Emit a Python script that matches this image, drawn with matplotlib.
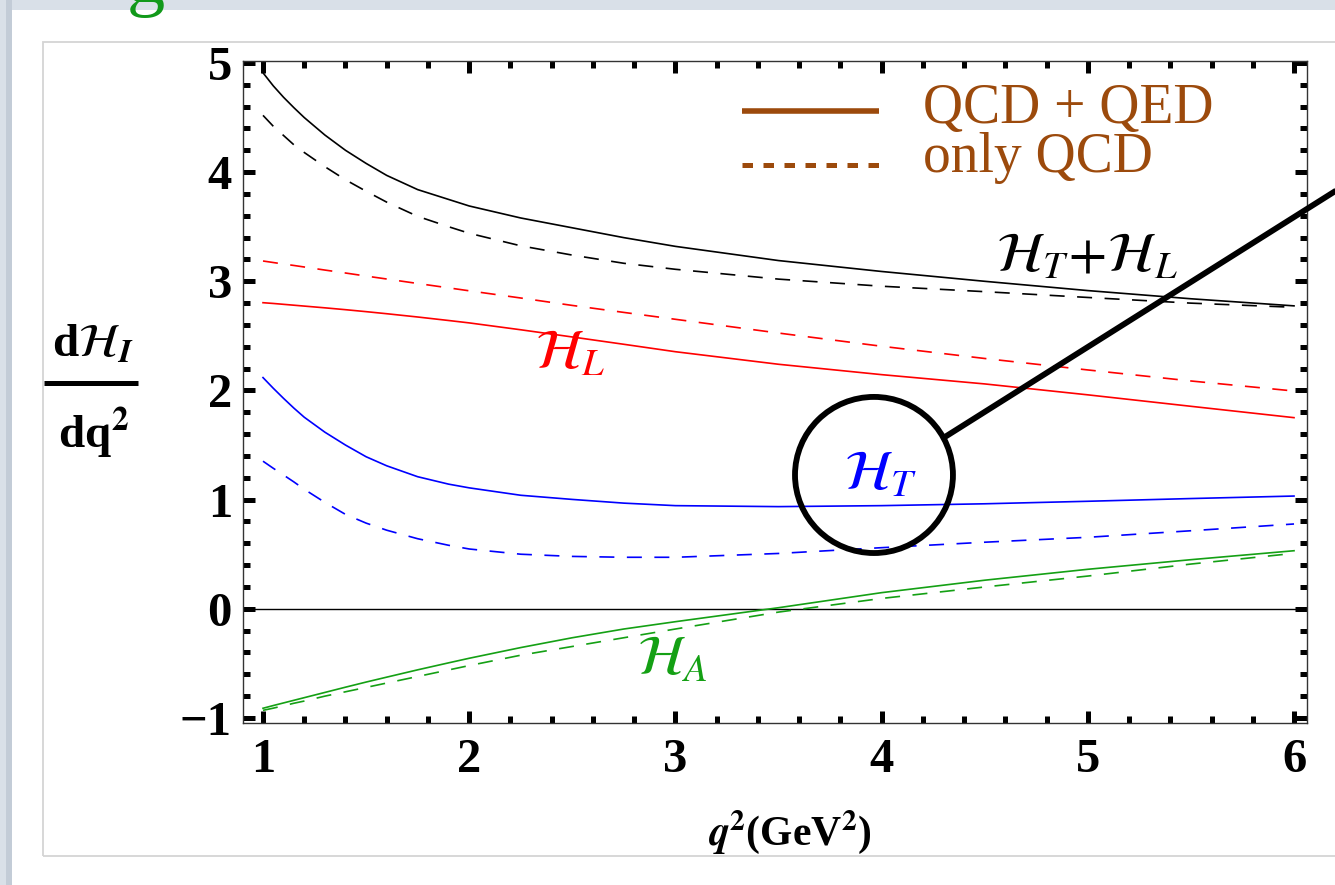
import matplotlib
matplotlib.use('Agg')
import matplotlib.pyplot as plt
from matplotlib.patches import Rectangle, Ellipse
from matplotlib.lines import Line2D
from matplotlib.ticker import MultipleLocator

plt.rcParams['font.family'] = 'serif'
plt.rcParams['font.serif'] = ['Liberation Serif', 'DejaVu Serif']
plt.rcParams['mathtext.fontset'] = 'stix'

# ---------------- data ----------------
q2 = [1.0, 1.05, 1.1, 1.15, 1.2, 1.3, 1.4, 1.5, 1.6, 1.75, 1.9, 2.0, 2.25, 2.5, 2.75,
      3.0, 3.5, 4.0, 4.5, 5.0, 5.5, 6.0]

HTL_qed = [4.91, 4.79, 4.685, 4.59, 4.50, 4.34, 4.20, 4.08, 3.97, 3.84, 3.75, 3.69, 3.58,
           3.49, 3.40, 3.32, 3.19, 3.09, 3.00, 2.915, 2.84, 2.775]
HTL_qcd = [4.52, 4.42, 4.335, 4.25, 4.18, 4.05, 3.93, 3.825, 3.725, 3.595, 3.50, 3.44, 3.325,
           3.24, 3.165, 3.11, 3.02, 2.955, 2.905, 2.852, 2.80, 2.762]
HL_qed = [2.804, 2.797, 2.789, 2.781, 2.773, 2.757, 2.740, 2.722, 2.703, 2.673, 2.641, 2.619,
          2.556, 2.49, 2.423, 2.355, 2.24, 2.145, 2.06, 1.96, 1.855, 1.751]
HL_qcd = [3.186, 3.172, 3.158, 3.145, 3.131, 3.103, 3.076, 3.048, 3.021, 2.98, 2.94, 2.913,
          2.847, 2.779, 2.715, 2.652, 2.526, 2.405, 2.293, 2.188, 2.087, 1.995]
HT_qed = [2.118, 2.02, 1.927, 1.838, 1.755, 1.618, 1.50, 1.393, 1.31, 1.21, 1.142, 1.108,
          1.04, 1.002, 0.968, 0.945, 0.936, 0.945, 0.962, 0.985, 1.01, 1.033]
HT_qcd = [1.352, 1.287, 1.225, 1.162, 1.095, 0.975, 0.865, 0.785, 0.72, 0.642, 0.582, 0.548,
          0.50, 0.48, 0.472, 0.472, 0.507, 0.56, 0.61, 0.655, 0.715, 0.777]
HA_qed = [-0.911, -0.886, -0.862, -0.838, -0.814, -0.766, -0.718, -0.671, -0.626, -0.559,
          -0.495, -0.453, -0.355, -0.265, -0.185, -0.118, 0.01, 0.148, 0.262, 0.362, 0.45, 0.532]
HA_qcd = [-0.93, -0.91, -0.888, -0.865, -0.845, -0.80, -0.76, -0.72, -0.68, -0.62, -0.56,
          -0.52, -0.425, -0.345, -0.265, -0.185, -0.03, 0.095, 0.20, 0.30, 0.41, 0.508]

xticks = [1, 2, 3, 4, 5, 6]
xticklabels = ['1', '2', '3', '4', '5', '6']
yticks = [-1, 0, 1, 2, 3, 4, 5]
yticklabels = ['\u22121', '0', '1', '2', '3', '4', '5']

legend_labels = ['QCD + QED', 'only QCD']
curve_labels = [r'$\mathcal{H}_T\!+\!\mathcal{H}_L$', r'$\mathcal{H}_L$', r'$\mathcal{H}_T$', r'$\mathcal{H}_A$']

# ---------------- figure ----------------
W, H = 1335, 885
fig = plt.figure(figsize=(W / 100, H / 100), dpi=100)
fig.patch.set_facecolor('#d9e0e8')
fig.add_artist(Rectangle((6 / W, 0), 6 / W, 1, transform=fig.transFigure,
                         facecolor='#c3ccd7', edgecolor='none', zorder=0))
fig.add_artist(Rectangle((12 / W, 0), 1, 1 - 10 / H, transform=fig.transFigure,
                         facecolor='white', edgecolor='none', zorder=0))
fig.add_artist(Rectangle((43 / W, 1 - 856 / H), 2, (856 - 42) / H, transform=fig.transFigure,
                         facecolor='none', edgecolor='#d4d4d4', lw=1.3, zorder=0.5))

# partially visible green letter at the top (cut off in the reference too)
fig.text(146 / W, 1 - 2.5 / H, 'g', color='#11991a', fontsize=55, ha='center', va='baseline')

ax = fig.add_axes([243 / W, 1 - 723 / H, (1307 - 243) / W, (723 - 61) / H])
ax.set_xlim(0.903, 6.063)
ax.set_ylim(-1.046, 5.018)

lw = 1.2
dash = (0, (9, 7.5))
ax.axhline(0, color='black', lw=1.0, zorder=1)
ax.plot(q2, HTL_qed, color='black', lw=lw)
ax.plot(q2, HTL_qcd, color='black', lw=lw, ls=dash)
ax.plot(q2, HL_qed, color='#ff0000', lw=lw)
ax.plot(q2, HL_qcd, color='#ff0000', lw=lw, ls=dash)
ax.plot(q2, HT_qed, color='#0000ff', lw=lw)
ax.plot(q2, HT_qcd, color='#0000ff', lw=lw, ls=dash)
ax.plot(q2, HA_qed, color='#14a014', lw=lw)
ax.plot(q2, HA_qcd, color='#14a014', lw=lw, ls=dash)

# curve labels
ax.text(4.996, 3.214, curve_labels[0], color='black', fontsize=40, ha='center', va='center')
ax.text(2.489, 2.325, curve_labels[1], color='#ff0000', fontsize=40, ha='center', va='center')
ax.text(3.997, 1.217, curve_labels[2], color='#0000ff', fontsize=40, ha='center', va='center')
ax.text(2.984, -0.469, curve_labels[3], color='#14a014', fontsize=40, ha='center', va='center')

# circle + pointer line
ax.add_patch(Ellipse((3.963, 1.226), 0.766, 1.43, facecolor='none', edgecolor='black',
                     lw=4.2, zorder=5, clip_on=False))
ax.add_line(Line2D([4.307, 6.32], [1.574, 3.969], color='black', lw=4.2, zorder=5,
                   clip_on=False, solid_capstyle='butt'))

# legend (manual)
brown = '#9c4a0c'
ax.add_line(Line2D([0.469, 0.598], [0.9245, 0.9245], transform=ax.transAxes, color=brown,
                   lw=4.0, solid_capstyle='butt'))
ax.add_line(Line2D([0.469, 0.598], [0.843, 0.843], transform=ax.transAxes, color=brown,
                   lw=3.6, ls=(0, (2.1, 2.1)), dash_capstyle='butt'))
ax.text(0.639, 0.906, legend_labels[0], transform=ax.transAxes, color=brown, fontsize=40,
        va='baseline', ha='left')
ax.text(0.639, 0.832, legend_labels[1], transform=ax.transAxes, color=brown, fontsize=40,
        va='baseline', ha='left')

# ticks
ax.set_xticks(xticks)
ax.set_xticklabels(xticklabels, fontweight='bold', fontsize=35)
ax.set_yticks(yticks)
ax.set_yticklabels(yticklabels, fontweight='bold', fontsize=35)
ax.xaxis.set_minor_locator(MultipleLocator(0.2))
ax.yaxis.set_minor_locator(MultipleLocator(0.2))
ax.tick_params(which='both', direction='in', top=True, right=True, color='black')
ax.tick_params(which='major', length=8.6, width=3.6)
ax.tick_params(axis='x', which='major', pad=11)
ax.tick_params(axis='y', which='major', pad=8)
ax.tick_params(which='minor', length=5, width=3.6)
for s in ax.spines.values():
    s.set_linewidth(1.0)
    s.set_color('#333333')

# axis labels
ax.text(0.514, -0.165, r'$\mathbfit{q}^{\mathbf{2}}$' + '(GeV' + r'$^{\mathbf{2}}$' + ')',
        transform=ax.transAxes, fontsize=30, fontweight='bold', ha='center', va='center')
fig.text(93 / W, 1 - 357 / H, 'd' + r'$\mathcal{H}_{\mathbfit{I}}$', fontsize=34,
         fontweight='bold', ha='center', va='baseline')
fig.add_artist(Line2D([44 / W, 138 / W], [1 - 383 / H, 1 - 383 / H], transform=fig.transFigure,
                      color='black', lw=3.6, solid_capstyle='butt'))
fig.text(94 / W, 1 - 448 / H, 'dq' + r'$^{\mathbf{2}}$', fontsize=34, fontweight='bold',
         ha='center', va='baseline')

fig.savefig('out.png', dpi=100, facecolor=fig.get_facecolor())
